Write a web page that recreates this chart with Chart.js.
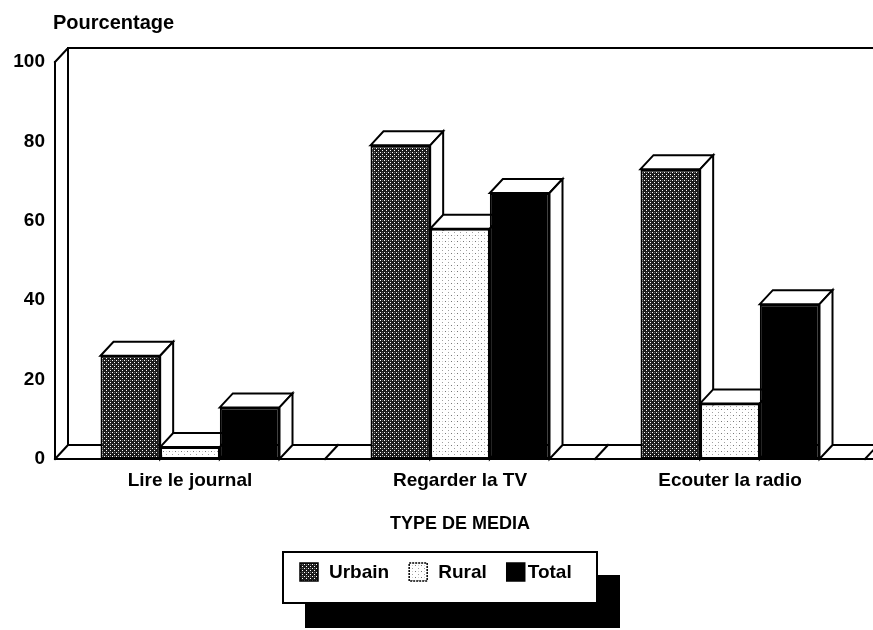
<!DOCTYPE html>
<html><head><meta charset="utf-8">
<script src="https://cdn.jsdelivr.net/npm/chart.js@4.4.1/dist/chart.umd.min.js"></script>
<style>html,body{margin:0;padding:0;background:#fff}canvas{display:block}</style>
</head><body>
<canvas id="c" width="873" height="630"></canvas>
<script>
const categories = ['Lire le journal', 'Regarder la TV', 'Ecouter la radio'];
const seriesNames = ['Urbain', 'Rural', 'Total'];
const urbainValues = [26, 79, 73];
const ruralValues = [3, 58, 14];
const totalValues = [13, 67, 39];
const yTickValues = [0, 20, 40, 60, 80, 100];
const yAxisTitle = 'Pourcentage';
const xAxisTitle = 'TYPE DE MEDIA';

const FAMILY = '"Liberation Sans", Arial, Helvetica, sans-serif';
const FSIZE = 19;
const DX = 13, DY = 14;

function makePattern(size, bg, dots) {
  const c = document.createElement('canvas');
  c.width = size; c.height = size;
  const g = c.getContext('2d');
  g.fillStyle = bg; g.fillRect(0, 0, size, size);
  dots.forEach(d => { g.fillStyle = d[2]; g.fillRect(d[0], d[1], 1, 1); });
  return g.createPattern(c, 'repeat');
}
const urbainFill = makePattern(4, '#1c1c1c', [[0,0,'#ffffff'],[2,2,'#ffffff'],[2,0,'#6a6a6a']]);
const ruralFill = makePattern(6, '#ffffff', [[1,1,'#777777'],[4,4,'#a0a0a0'],[4,1,'#d0d0d0']]);
const totalFill = '#000000';
const fills = [urbainFill, ruralFill, totalFill];

const threeD = {
  id: 'threeD',
  beforeDatasetsDraw(chart) {
    const {ctx, chartArea: a, scales: {x, y}} = chart;
    const y0 = y.getPixelForValue(0), yTop = y.getPixelForValue(100);
    const step = x.getPixelForValue(1) - x.getPixelForValue(0);
    ctx.save();
    ctx.strokeStyle = '#000'; ctx.lineWidth = 2; ctx.lineCap = 'square';
    ctx.beginPath();
    ctx.moveTo(a.left, yTop); ctx.lineTo(a.left + DX, yTop - DY); ctx.lineTo(chart.width + 5, yTop - DY);
    ctx.moveTo(a.left + DX, yTop - DY); ctx.lineTo(a.left + DX, y0 - DY);
    ctx.moveTo(a.left + DX, y0 - DY); ctx.lineTo(chart.width + 5, y0 - DY);
    for (let i = 0; i <= categories.length; i++) {
      const bx = x.getPixelForValue(0) - step / 2 + i * step;
      ctx.moveTo(bx, y0); ctx.lineTo(bx + DX, y0 - DY);
    }
    ctx.moveTo(a.left, yTop); ctx.lineTo(a.left, y0);
    ctx.moveTo(a.left, y0); ctx.lineTo(chart.width + 5, y0);
    ctx.stroke();
    ctx.restore();
  },
  beforeDatasetDraw() { return false; },
  afterDatasetsDraw(chart) {
    const {ctx, chartArea: a} = chart;
    const metas = chart.getSortedVisibleDatasetMetas().slice().sort((m1, m2) => m1.index - m2.index);
    ctx.save();
    ctx.strokeStyle = '#000'; ctx.lineWidth = 2; ctx.lineJoin = 'miter';
    for (let i = 0; i < categories.length; i++) {
      metas.forEach(m => {
        const bar = m.data[i];
        const p = bar.getProps(['x', 'y', 'width', 'base'], true);
        const l = p.x - p.width / 2, r = p.x + p.width / 2;
        ctx.beginPath();
        ctx.moveTo(l, p.y); ctx.lineTo(l + DX, p.y - DY); ctx.lineTo(r + DX, p.y - DY); ctx.lineTo(r, p.y); ctx.closePath();
        ctx.fillStyle = '#fff'; ctx.fill(); ctx.stroke();
        ctx.beginPath();
        ctx.moveTo(r, p.y); ctx.lineTo(r + DX, p.y - DY); ctx.lineTo(r + DX, p.base - DY); ctx.lineTo(r, p.base); ctx.closePath();
        ctx.fillStyle = '#fff'; ctx.fill(); ctx.stroke();
        bar.draw(ctx, a);
      });
    }
    ctx.restore();
  },
  afterDraw(chart) {
    const {ctx, chartArea: a} = chart;
    ctx.save();
    ctx.fillStyle = '#000';
    ctx.font = 'bold 20px ' + FAMILY;
    ctx.textBaseline = 'middle'; ctx.textAlign = 'left';
    ctx.fillText(yAxisTitle, a.left - 2, 23);
    ctx.font = 'bold ' + FSIZE + 'px ' + FAMILY;
    const bx = 283, by = 552, bw = 314, bh = 51;
    ctx.fillStyle = '#000';
    ctx.fillRect(bx + 22, by + 23, bw + 1, 53);
    ctx.fillStyle = '#fff';
    ctx.fillRect(bx, by, bw, bh);
    ctx.strokeStyle = '#000'; ctx.lineWidth = 2;
    ctx.strokeRect(bx, by, bw, bh);
    let cx = bx + 17;
    const sy = by + 11, ss = 18;
    chart.data.datasets.forEach((ds, k) => {
      ctx.fillStyle = ds.backgroundColor;
      ctx.fillRect(cx, sy, ss, ss);
      ctx.lineWidth = 1.5; ctx.strokeStyle = '#000';
      if (k === 1) ctx.setLineDash([2, 1]);
      ctx.strokeRect(cx, sy, ss, ss);
      ctx.setLineDash([]);
      cx += ss + (k === 2 ? 3 : 11);
      ctx.fillStyle = '#000';
      ctx.textBaseline = 'middle';
      ctx.fillText(ds.label, cx, sy + ss / 2 + 1);
      cx += ctx.measureText(ds.label).width + 20;
    });
    ctx.restore();
  }
};

new Chart(document.getElementById('c'), {
  type: 'bar',
  data: {
    labels: categories,
    datasets: [
      { label: seriesNames[0], data: urbainValues, backgroundColor: fills[0] },
      { label: seriesNames[1], data: ruralValues, backgroundColor: fills[1] },
      { label: seriesNames[2], data: totalValues, backgroundColor: fills[2] }
    ]
  },
  options: {
    responsive: false,
    devicePixelRatio: 1,
    animation: false,
    layout: { padding: { left: 0, right: 8, top: 62, bottom: 0 } },
    datasets: { bar: { barPercentage: 1, categoryPercentage: 0.663, borderColor: '#000', borderWidth: 2, borderSkipped: false } },
    plugins: { legend: { display: false }, tooltip: { enabled: false }, title: { display: false } },
    scales: {
      x: {
        type: 'category',
        offset: true,
        grid: { display: false, drawTicks: false },
        border: { display: false },
        ticks: { color: '#000', font: { family: FAMILY, size: FSIZE, weight: 'bold' }, padding: 10, maxRotation: 0 },
        title: { display: true, text: xAxisTitle, color: '#000', font: { family: FAMILY, size: FSIZE - 1, weight: 'bold' }, padding: { top: 0, bottom: 95 } },
        afterFit: s => { s.height = 171; }
      },
      y: {
        min: 0, max: 100,
        grid: { display: false, drawTicks: false },
        border: { display: false },
        afterBuildTicks: s => { s.ticks = yTickValues.map(v => ({ value: v })); },
        ticks: { color: '#000', font: { family: FAMILY, size: FSIZE, weight: 'bold' }, padding: 10 },
        afterFit: s => { s.width = 55; }
      }
    }
  },
  plugins: [threeD]
});
</script>
</body></html>
